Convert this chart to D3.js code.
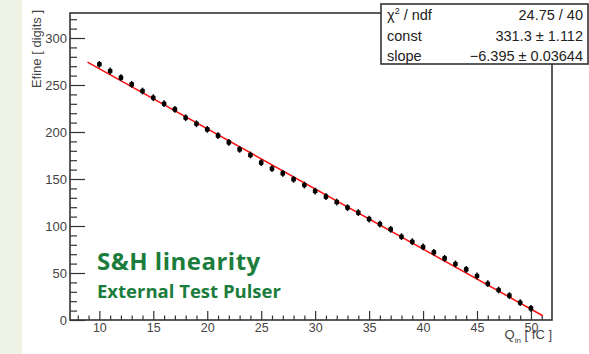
<!DOCTYPE html>
<html>
<head>
<meta charset="utf-8">
<script src="https://cdn.jsdelivr.net/npm/d3@7"></script>
<style>
  body { margin: 0; background: #fff; }
  svg { display: block; font-family: "Liberation Sans", Arial, sans-serif; }
</style>
</head>
<body>
<div id="chart"></div>
<script>
// Data
const qIn = [10, 11, 12, 13, 14, 15, 16, 17, 18, 19, 20, 21, 22, 23, 24, 25, 26, 27, 28, 29,
             30, 31, 32, 33, 34, 35, 36, 37, 38, 39, 40, 41, 42, 43, 44, 45, 46, 47, 48, 49, 50];
const efine = [272.0, 264.9, 257.8, 250.7, 243.6, 236.5, 230.1, 224.1, 215.2, 208.8,
               202.8, 196.1, 189.0, 181.5, 175.5, 167.4, 161.0, 156.0, 149.7, 143.6,
               137.2, 131.2, 125.5, 119.5, 114.2, 107.4, 102.1, 96.5, 88.6, 83.3,
               77.7, 72.0, 65.6, 59.6, 53.9, 46.8, 38.6, 31.9, 25.9, 18.4, 12.4];
const efineErr = [3.6, 3.6, 3.6, 3.6, 3.6, 3.6, 3.6, 3.6, 3.6, 3.6,
                  3.6, 3.6, 3.6, 3.6, 3.6, 3.6, 3.6, 3.6, 3.6, 3.6,
                  3.6, 3.6, 3.6, 3.6, 3.6, 3.6, 3.6, 3.6, 3.6, 3.6,
                  3.6, 3.6, 3.6, 3.6, 3.6, 3.6, 3.6, 3.6, 3.6, 3.6, 3.6];

// Linear fit result and the range it is drawn on
const fitConst = 331.3;
const fitSlope = -6.395;
const fitRange = [8.9, 51.1];

const xMajor = [10, 15, 20, 25, 30, 35, 40, 45, 50];
const xMinor = [8, 9, 11, 12, 13, 14, 16, 17, 18, 19, 21, 22, 23, 24, 26, 27, 28, 29,
                31, 32, 33, 34, 36, 37, 38, 39, 41, 42, 43, 44, 46, 47, 48, 49, 51];
const yMajor = [0, 50, 100, 150, 200, 250, 300];
const yMinor = [10, 20, 30, 40, 60, 70, 80, 90, 110, 120, 130, 140, 160, 170, 180, 190,
                210, 220, 230, 240, 260, 270, 280, 290, 310, 320];

const statLabels = ["χ² / ndf", "const", "slope"];
const statValues = ["24.75 / 40", "331.3 ± 1.112", "\u22126.395 ± 0.03644"];

const width = 589;
const height = 354;
const frame = { left: 70, right: 552, top: 13, bottom: 320 };

const svg = d3.select("#chart").append("svg")
    .attr("width", width)
    .attr("height", height);

// pale green strip on the left of the slide
svg.append("rect")
    .attr("x", 0).attr("y", 0)
    .attr("width", 22).attr("height", height)
    .attr("fill", "#eff3e6");

const x = d3.scaleLinear().domain([7.28, 51.95]).range([frame.left, frame.right]);
const y = d3.scaleLinear().domain([0, 326.6]).range([frame.bottom, frame.top]);

const axisColor = "#333";

// Axes (ROOT style, ticks pointing inwards)
const gx = svg.append("g").attr("transform", `translate(0,${frame.bottom})`);
gx.call(d3.axisBottom(x).tickValues(xMajor).tickSize(-9).tickPadding(3.5).tickFormat(d3.format("d")));
const gxm = svg.append("g").attr("transform", `translate(0,${frame.bottom})`);
gxm.call(d3.axisBottom(x).tickValues(xMinor).tickSize(-4.5).tickFormat(""));

const gy = svg.append("g").attr("transform", `translate(${frame.left},0)`);
gy.call(d3.axisLeft(y).tickValues(yMajor).tickSize(-15).tickPadding(3).tickFormat(d3.format("d")));
const gym = svg.append("g").attr("transform", `translate(${frame.left},0)`);
gym.call(d3.axisLeft(y).tickValues(yMinor).tickSize(-7).tickFormat(""));

[gx, gxm, gy, gym].forEach(g => {
    g.select(".domain").remove();
    g.selectAll(".tick line").attr("stroke", axisColor).attr("stroke-width", 1.2);
    g.selectAll(".tick text")
        .attr("fill", "#444")
        .style("font-family", "'Liberation Sans', Arial, sans-serif");
});
gx.selectAll(".tick text").style("font-size", "12.5px");
gy.selectAll(".tick text").style("font-size", "13px");

// Frame
svg.append("rect")
    .attr("x", frame.left).attr("y", frame.top)
    .attr("width", frame.right - frame.left)
    .attr("height", frame.bottom - frame.top)
    .attr("fill", "none")
    .attr("stroke", axisColor)
    .attr("stroke-width", 1.6);

// Fit line
const fitLine = d3.line()
    .x(d => x(d))
    .y(d => y(fitConst + fitSlope * d));
svg.append("path")
    .datum(fitRange)
    .attr("d", fitLine)
    .attr("fill", "none")
    .attr("stroke", "#ff1010")
    .attr("stroke-width", 1.5);

// Data points with error bars
const pts = qIn.map((q, i) => ({ q: q, v: efine[i], e: efineErr[i] }));
const gp = svg.append("g");
gp.selectAll("line.err")
    .data(pts)
    .enter().append("line")
    .attr("class", "err")
    .attr("x1", d => x(d.q)).attr("x2", d => x(d.q))
    .attr("y1", d => y(d.v - d.e)).attr("y2", d => y(d.v + d.e))
    .attr("stroke", "#000")
    .attr("stroke-width", 1.5);
gp.selectAll("rect")
    .data(pts)
    .enter().append("rect")
    .attr("x", d => x(d.q) - 2.3)
    .attr("y", d => y(d.v) - 2.3)
    .attr("width", 4.6)
    .attr("height", 4.6)
    .attr("rx", 1.2)
    .attr("fill", "#000");

// Axis titles
svg.append("text")
    .attr("transform", "translate(41,10) rotate(-90)")
    .attr("text-anchor", "end")
    .attr("fill", "#444")
    .style("font-size", "13px")
    .text("Efine [ digits ]");

const xt = svg.append("text")
    .attr("x", frame.right)
    .attr("y", 339)
    .attr("text-anchor", "end")
    .attr("fill", "#444")
    .style("font-size", "13px");
xt.append("tspan").text("Q");
xt.append("tspan").attr("dy", 4).style("font-size", "8px").text("in");
xt.append("tspan").attr("dy", -4).text(" [ fC ]");

// Stats box
const box = { x: 381, y: 4, w: 207, h: 60 };
svg.append("rect")
    .attr("x", box.x).attr("y", box.y)
    .attr("width", box.w).attr("height", box.h)
    .attr("fill", "#fff")
    .attr("stroke", axisColor)
    .attr("stroke-width", 1.6);
const rowBase = [20, 41, 61];
statLabels.forEach((label, i) => {
    const t = svg.append("text")
        .attr("x", box.x + 6)
        .attr("y", rowBase[i])
        .attr("fill", "#222")
        .style("font-size", "14.5px");
    if (i === 0) {
        t.append("tspan").text("χ");
        t.append("tspan").attr("dy", -6).style("font-size", "9px").text("2");
        t.append("tspan").attr("dy", 6).text(" / ndf");
    } else {
        t.text(label);
    }
    svg.append("text")
        .attr("x", box.x + box.w - 5)
        .attr("y", rowBase[i])
        .attr("text-anchor", "end")
        .attr("fill", "#222")
        .style("font-size", "14.5px")
        .text(statValues[i]);
});

// Slide annotations
svg.append("text")
    .attr("x", 97).attr("y", 270)
    .attr("fill", "#1a7d3c")
    .style("font-family", "'Open Sans', Lato, sans-serif")
    .style("font-weight", "bold")
    .style("font-size", "24px")
    .style("letter-spacing", "0.5px")
    .text("S&H linearity");
svg.append("text")
    .attr("x", 97).attr("y", 298)
    .attr("fill", "#1a7d3c")
    .style("font-family", "'Open Sans', Lato, sans-serif")
    .style("font-weight", "bold")
    .style("font-size", "18.5px")
    .text("External Test Pulser");
</script>
</body>
</html>
